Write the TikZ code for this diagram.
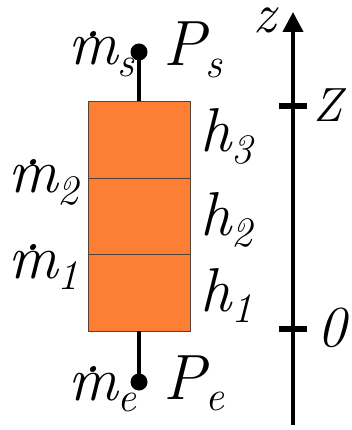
\documentclass[tikz,border=0pt]{standalone}
\usetikzlibrary{positioning, arrows.meta, calc}
\definecolor{cellcolor}{RGB}{253, 127, 52}
\definecolor{celledge}{RGB}{85, 65, 55}
\newcommand{\mflow}{\ooalign{m\cr\hidewidth\raisebox{0.45em}{.}\hidewidth\cr}}
\newcommand{\lowsub}[1]{\raisebox{-0.18em}{\fontsize{42}{44}\selectfont #1}}

\begin{document}
\begin{tikzpicture}[x=1pt, y=1pt,
    cell/.style={draw=celledge, fill=cellcolor, line width=0.9pt,
                 minimum width=102pt, minimum height=76.5pt,
                 inner sep=0pt, outer sep=0pt},
    port/.style={circle, fill=black, minimum size=17pt, inner sep=0pt},
    lbl/.style={font=\fontsize{62}{64}\selectfont\itshape, inner sep=0pt},
    biglbl/.style={font=\fontsize{64}{66}\selectfont\itshape, inner sep=0pt}]
  \useasboundingbox (0,0) rectangle (352,-430);

  % three stacked cells
  \node[cell, anchor=north west] (c3) at (88,-101.5) {};
  \node[cell, below=0pt of c3] (c2) {};
  \node[cell, below=0pt of c2] (c1) {};

  % inlet and outlet
  \node[port] (ps) at (139,-52) {};
  \node[port] (pe) at (139,-382) {};
  \draw[line width=4.5pt] (c3.north) -- (ps.center);
  \draw[line width=4.5pt] (c1.south) -- (pe.center);

  \node[lbl, anchor=base west] (ms) at (68,-65) {\mflow\lowsub{s}};
  \node[biglbl, anchor=base west] (Ps) at (163,-66) {P\lowsub{s}};
  \node[lbl, anchor=base west] (me) at (68,-400) {\mflow\lowsub{e}};
  \node[biglbl, anchor=base west] (Pe) at (163,-399) {P\lowsub{e}};

  \node[lbl, anchor=base west] (m2) at (8,-193) {\mflow\lowsub{2}};
  \node[lbl, anchor=base west] (m1) at (8,-278) {\mflow\lowsub{1}};

  \node[lbl, anchor=base west] (h3) at (200,-152) {h\lowsub{3}};
  \node[lbl, anchor=base west] (h2) at (200,-235) {h\lowsub{2}};
  \node[lbl, anchor=base west] (h1) at (200,-311) {h\lowsub{1}};

  % height axis
  \coordinate (zbot) at (293,-425);
  \coordinate (ztop) at (293,-12);
  \coordinate (tZ) at (293,-106);
  \coordinate (t0) at (293,-329);
  \draw[line width=4pt, -{Triangle[length=20pt, width=20pt]}] (zbot) -- (ztop);
  \draw[line width=6pt] ($(tZ)+(-14,0)$) -- ($(tZ)+(14,0)$);
  \draw[line width=6pt] ($(t0)+(-14,0)$) -- ($(t0)+(14,0)$);
  \node[font=\fontsize{56}{58}\selectfont\itshape, inner sep=0pt, anchor=base west] (zl) at (253,-33) {z};
  \node[font=\fontsize{48}{50}\selectfont\itshape, inner sep=0pt, anchor=base west] (Zl) at (313,-122) {Z};
  \node[font=\fontsize{58}{60}\selectfont\itshape, inner sep=0pt, anchor=base west] (zero) at (317,-346) {0};
\end{tikzpicture}
\end{document}
